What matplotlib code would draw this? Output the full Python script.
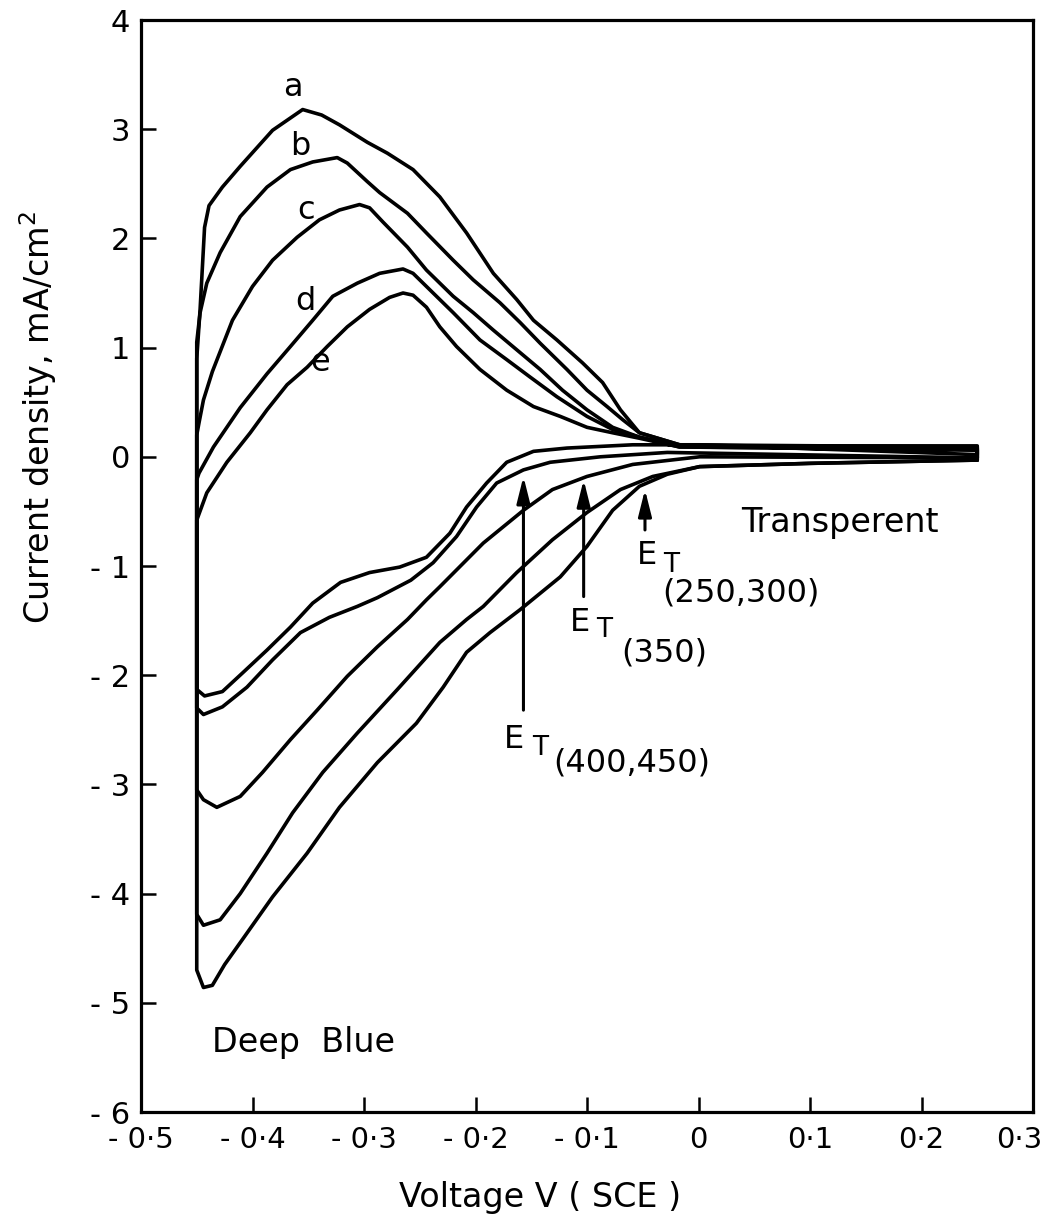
import matplotlib
matplotlib.use("Agg")
import matplotlib.pyplot as plt
from matplotlib.transforms import ScaledTranslation

plt.rcParams['font.family'] = ['DejaVu Sans']

# ---------------- data (voltage V vs SCE, current density mA/cm2) ----------------
# loop a : cathodic (right -> left) then anodic (left -> right)
cath_a_v = [0.25, 0.10, 0.001, -0.028, -0.053, -0.077, -0.100, -0.124, -0.160, -0.187, -0.208,
            -0.229, -0.253, -0.288, -0.322, -0.351, -0.382, -0.409, -0.425, -0.436, -0.444, -0.450]
cath_a_i = [-0.03, -0.06, -0.09, -0.16, -0.27, -0.49, -0.82, -1.10, -1.40, -1.61, -1.79,
            -2.11, -2.44, -2.80, -3.21, -3.63, -4.03, -4.42, -4.65, -4.84, -4.86, -4.70]
anod_a_v = [-0.450, -0.447, -0.443, -0.439, -0.427, -0.411, -0.382, -0.355, -0.338, -0.322, -0.297,
            -0.279, -0.256, -0.232, -0.208, -0.184, -0.163, -0.148, -0.127, -0.104, -0.086,
            -0.070, -0.053, -0.017, 0.046, 0.25]
anod_a_i = [0.90, 1.35, 2.10, 2.30, 2.47, 2.66, 2.99, 3.18, 3.13, 3.04, 2.88,
            2.78, 2.63, 2.38, 2.05, 1.68, 1.44, 1.25, 1.07, 0.86, 0.68,
            0.43, 0.22, 0.11, 0.10, 0.10]

# loop b
cath_b_v = [0.25, 0.10, 0.001, -0.041, -0.070, -0.100, -0.131, -0.163, -0.193, -0.208, -0.232,
            -0.270, -0.306, -0.337, -0.364, -0.387, -0.411, -0.429, -0.444, -0.450]
cath_b_i = [-0.03, -0.06, -0.09, -0.18, -0.30, -0.51, -0.76, -1.06, -1.37, -1.49, -1.70,
            -2.13, -2.53, -2.89, -3.26, -3.63, -4.00, -4.24, -4.29, -4.19]
anod_b_v = [-0.450, -0.447, -0.441, -0.429, -0.411, -0.387, -0.366, -0.346, -0.324, -0.315, -0.297,
            -0.286, -0.261, -0.244, -0.220, -0.202, -0.178, -0.160, -0.142, -0.118, -0.100,
            -0.082, -0.068, -0.053, -0.017, 0.25]
anod_b_i = [1.05, 1.32, 1.59, 1.87, 2.20, 2.47, 2.63, 2.70, 2.74, 2.69, 2.52,
            2.42, 2.23, 2.05, 1.80, 1.62, 1.41, 1.23, 1.04, 0.80, 0.61,
            0.46, 0.34, 0.22, 0.11, 0.09]

# loop c
cath_c_v = [0.25, 0.001, -0.059, -0.100, -0.131, -0.157, -0.193, -0.232, -0.244, -0.261, -0.288,
            -0.315, -0.342, -0.366, -0.391, -0.411, -0.432, -0.444, -0.450]
cath_c_i = [-0.01, 0.00, -0.07, -0.18, -0.30, -0.49, -0.79, -1.19, -1.31, -1.49, -1.74,
            -2.01, -2.32, -2.59, -2.89, -3.11, -3.21, -3.14, -3.05]
anod_c_v = [-0.450, -0.448, -0.444, -0.436, -0.418, -0.400, -0.382, -0.360, -0.340, -0.322,
            -0.304, -0.295, -0.283, -0.261, -0.244, -0.220, -0.202, -0.184, -0.163, -0.142,
            -0.122, -0.100, -0.077, -0.053, -0.017, 0.25]
anod_c_i = [0.20, 0.31, 0.52, 0.78, 1.25, 1.56, 1.80, 2.01, 2.17, 2.26,
            2.31, 2.28, 2.15, 1.92, 1.71, 1.47, 1.32, 1.16, 0.98, 0.80,
            0.61, 0.43, 0.27, 0.18, 0.10, 0.08]

# loop d
cath_d_v = [0.25, -0.028, -0.088, -0.133, -0.157, -0.181, -0.199, -0.217, -0.238, -0.258, -0.288,
            -0.306, -0.331, -0.357, -0.382, -0.405, -0.427, -0.444, -0.450]
cath_d_i = [-0.01, 0.04, 0.00, -0.05, -0.12, -0.24, -0.46, -0.73, -0.97, -1.13, -1.29,
            -1.37, -1.47, -1.61, -1.86, -2.11, -2.29, -2.36, -2.30]
anod_d_v = [-0.450, -0.448, -0.435, -0.411, -0.387, -0.366, -0.346, -0.328, -0.306, -0.286, -0.265,
            -0.256, -0.241, -0.220, -0.196, -0.172, -0.151, -0.127, -0.100, -0.077, -0.053,
            -0.017, 0.25]
anod_d_i = [-0.21, -0.15, 0.09, 0.45, 0.76, 1.01, 1.25, 1.47, 1.59, 1.68, 1.72,
            1.68, 1.53, 1.32, 1.07, 0.89, 0.73, 0.55, 0.37, 0.25, 0.18,
            0.09, 0.07]

# loop e
cath_e_v = [0.25, 0.001, -0.059, -0.118, -0.148, -0.172, -0.190, -0.208, -0.223, -0.244, -0.268,
            -0.295, -0.321, -0.346, -0.366, -0.387, -0.409, -0.427, -0.443, -0.450]
cath_e_i = [0.02, 0.11, 0.11, 0.08, 0.05, -0.05, -0.24, -0.46, -0.70, -0.92, -1.01,
            -1.06, -1.15, -1.34, -1.56, -1.77, -1.98, -2.15, -2.19, -2.13]
anod_e_v = [-0.450, -0.441, -0.423, -0.402, -0.387, -0.369, -0.351, -0.333, -0.315, -0.295, -0.277,
            -0.265, -0.256, -0.244, -0.232, -0.217, -0.196, -0.172, -0.148, -0.124, -0.100,
            -0.077, -0.053, -0.017, 0.25]
anod_e_i = [-0.58, -0.33, -0.05, 0.22, 0.43, 0.66, 0.82, 1.01, 1.19, 1.35, 1.46,
            1.50, 1.48, 1.37, 1.19, 1.01, 0.80, 0.61, 0.46, 0.37, 0.27,
            0.22, 0.17, 0.09, 0.06]

curve_labels = ['a', 'b', 'c', 'd', 'e']

x_ticks = [-0.5, -0.4, -0.3, -0.2, -0.1, 0.0, 0.1, 0.2, 0.3]
x_tick_labels = ['- 0\u00b75', '- 0\u00b74', '- 0\u00b73', '- 0\u00b72', '- 0\u00b71', '0',
                 '0\u00b71', '0\u00b72', '0\u00b73']
y_ticks = [-6, -5, -4, -3, -2, -1, 0, 1, 2, 3, 4]
y_tick_labels = ['- 6', '- 5', '- 4', '- 3', '- 2', '- 1', '0', '1', '2', '3', '4']

# E_T markers: (voltage, arrow tail current, arrow tip current)
et_v = [-0.157, -0.103, -0.048]
et_tail = [-2.32, -1.28, -0.67]
et_tip = [-0.18, -0.21, -0.30]
et_sub = ['(400,450)', '(350)', '(250,300)']

# ---------------- figure ----------------
W, H = 1054, 1217
fig = plt.figure(figsize=(W / 100, H / 100), dpi=100)
ax = fig.add_axes([141 / W, 1 - 1112 / H, (1033 - 141) / W, (1112 - 20) / H])

LW = 2.6
loops = [
    (cath_a_v, cath_a_i, anod_a_v, anod_a_i),
    (cath_b_v, cath_b_i, anod_b_v, anod_b_i),
    (cath_c_v, cath_c_i, anod_c_v, anod_c_i),
    (cath_d_v, cath_d_i, anod_d_v, anod_d_i),
    (cath_e_v, cath_e_i, anod_e_v, anod_e_i),
]
for cv, ci, av, ai in loops:
    xs = list(cv) + list(av) + [cv[0]]
    ys = list(ci) + list(ai) + [ci[0]]
    ax.plot(xs, ys, color='black', lw=LW, solid_joinstyle='round', solid_capstyle='round')

ax.set_xlim(-0.5, 0.3)
ax.set_ylim(-6, 4)
ax.set_xticks(x_ticks)
ax.set_xticklabels(x_tick_labels)
ax.set_yticks(y_ticks)
ax.set_yticklabels(y_tick_labels)
ax.tick_params(direction='in', length=11, width=1.8, labelsize=22)
ax.tick_params(axis='x', pad=10, labelsize=21)
ax.tick_params(axis='y', pad=8)
for s in ax.spines.values():
    s.set_linewidth(2.3)

# keep the last x tick label inside the figure
last = ax.get_xticklabels()[-1]
last.set_transform(last.get_transform() + ScaledTranslation(-10 / 72, 0, fig.dpi_scale_trans))

FS = 23
# curve letters
label_pos = [(-0.3637, 3.38), (-0.3574, 2.84), (-0.352, 2.26), (-0.3529, 1.42), (-0.3395, 0.86)]
for lab, (lx, ly) in zip(curve_labels, label_pos):
    ax.text(lx, ly, lab, fontsize=FS, ha='center', va='center')

# arrows
for v, t0, t1 in zip(et_v, et_tail, et_tip):
    ax.annotate('', xy=(v, t1), xytext=(v, t0),
                arrowprops=dict(arrowstyle='-|>,head_length=0.8,head_width=0.2',
                                lw=2.2, color='black', mutation_scale=20,
                                shrinkA=0, shrinkB=0))

# E_T labels
et_text_pos = [
    ((-0.1654, -2.59), (-0.142, -2.67), (-0.0596, -2.80)),
    ((-0.1063, -1.52), (-0.085, -1.59), (-0.031, -1.80)),
    ((-0.0462, -0.90), (-0.0245, -0.99), (0.038, -1.25)),
]
for (pE, pT, pS), sub in zip(et_text_pos, et_sub):
    ax.text(*pE, 'E', fontsize=FS, ha='center', va='center')
    ax.text(*pT, 'T', fontsize=FS - 4, ha='center', va='center')
    ax.text(*pS, sub, fontsize=FS, ha='center', va='center')

ax.text(0.127, -0.60, 'Transperent', fontsize=FS + 1, ha='center', va='center')
ax.text(-0.3547, -5.36, 'Deep  Blue', fontsize=FS + 1, ha='center', va='center')

fig.text(540 / W, 1 - 1198 / H, 'Voltage V ( SCE )', fontsize=FS + 1, ha='center', va='center')
fig.text(38 / W, 1 - 417 / H, 'Current density, mA/cm$^2$', fontsize=FS + 1, ha='center',
         va='center', rotation=90)

fig.savefig('out.png', dpi=100)
